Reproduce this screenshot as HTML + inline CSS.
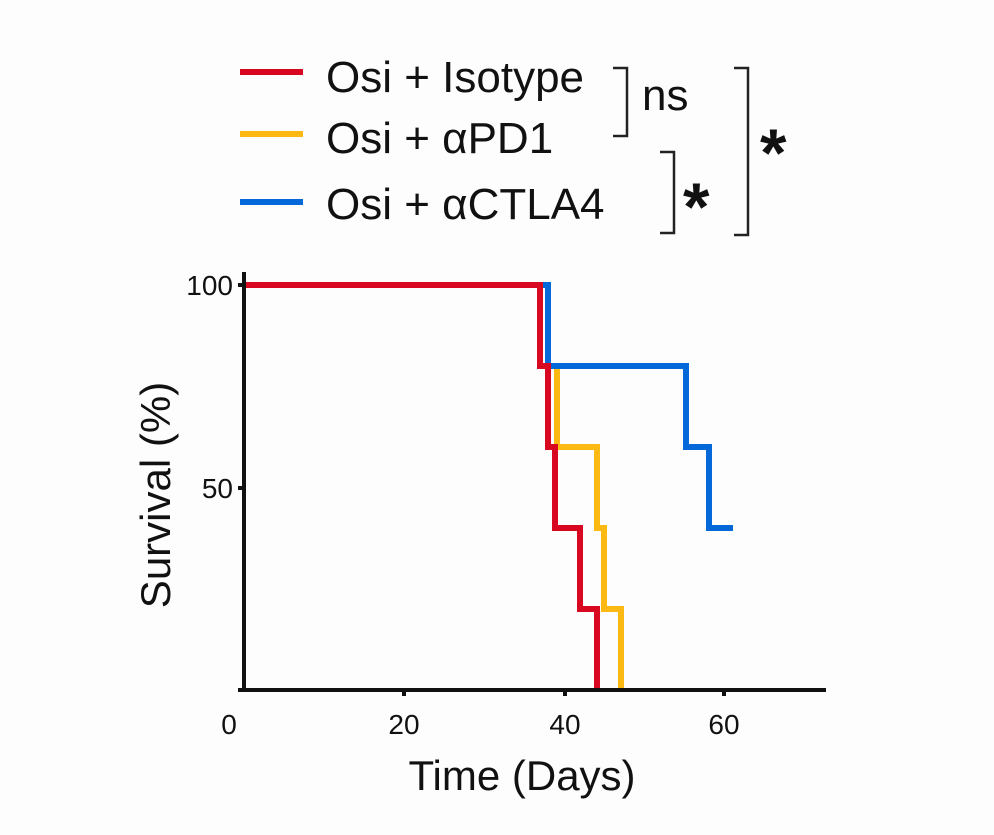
<!DOCTYPE html>
<html><head><style>body{margin:0;background:#fdfdfd}</style></head><body>
<svg width="994" height="830" xmlns="http://www.w3.org/2000/svg" font-family="Liberation Sans, Arial, sans-serif">
<rect width="994" height="830" fill="#fdfdfd"/>
<line x1="240" y1="72" x2="303" y2="72" stroke="#d7081f" stroke-width="6"/>
<line x1="240" y1="134" x2="303" y2="134" stroke="#fdb913" stroke-width="6"/>
<line x1="240" y1="202" x2="303" y2="202" stroke="#0568d8" stroke-width="6"/>
<g font-size="44" fill="#111">
<text x="326" y="92">Osi + Isotype</text>
<text x="326" y="153">Osi + αPD1</text>
<text x="326" y="219">Osi + αCTLA4</text>
<text x="642" y="110">ns</text>
</g>
<g fill="none" stroke="#222" stroke-width="2.5">
<polyline points="613,68 627,68 627,136 613,136"/>
<polyline points="660,152 674,152 674,233 660,233"/>
<polyline points="734,68 748,68 748,235 734,235"/>
</g>
<g font-size="68" font-weight="bold" fill="#111">
<text x="683" y="230">*</text>
<text x="760" y="176">*</text>
</g>
<g fill="none" stroke-width="6" stroke-linejoin="miter">
<polyline stroke="#fdb913" points="548,366 557,366 557,447 597,447 597,528 604,528 604,609 621,609 621,690"/>
<polyline stroke="#0568d8" points="540,285 548,285 548,366 686,366 686,447 709,447 709,528 733,528"/>
<polyline stroke="#d7081f" points="244,285 540,285 540,366 548,366 548,447 555,447 555,528 580,528 580,609 597,609 597,690"/>
</g>
<g stroke="#111" stroke-width="4">
<line x1="244" y1="272" x2="244" y2="692"/>
<line x1="242" y1="690" x2="826" y2="690"/>
<line x1="238" y1="285" x2="244" y2="285"/>
<line x1="238" y1="488" x2="244" y2="488"/>
<line x1="238" y1="690" x2="244" y2="690"/>
<line x1="404" y1="690" x2="404" y2="696"/>
<line x1="565" y1="690" x2="565" y2="696"/>
<line x1="724" y1="690" x2="724" y2="696"/>
</g>
<g font-size="28" fill="#111">
<text x="233" y="295" text-anchor="end">100</text>
<text x="233" y="498" text-anchor="end">50</text>
<text x="229" y="734" text-anchor="middle">0</text>
<text x="404" y="734" text-anchor="middle">20</text>
<text x="565" y="734" text-anchor="middle">40</text>
<text x="724" y="734" text-anchor="middle">60</text>
</g>
<text x="522" y="790" font-size="42" text-anchor="middle" fill="#111">Time (Days)</text>
<text transform="translate(170,495) rotate(-90)" font-size="42" text-anchor="middle" fill="#111">Survival (%)</text>
</svg>
</body></html>
